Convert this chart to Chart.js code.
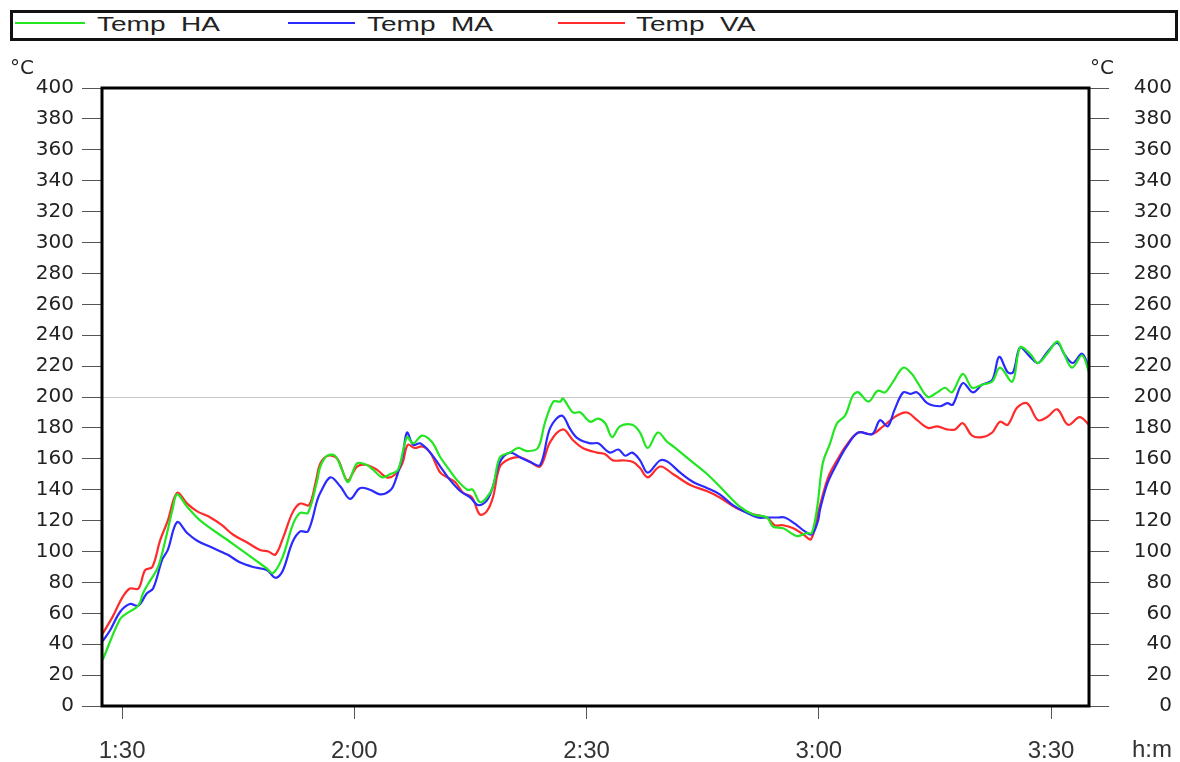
<!DOCTYPE html>
<html>
<head>
<meta charset="utf-8">
<script src="https://cdn.jsdelivr.net/npm/chart.js@4.4.1/dist/chart.umd.min.js"></script>
<style>
  html, body { margin: 0; padding: 0; background: #fff; }
  #wrap { position: relative; width: 1180px; height: 762px; }
  #legend { position: absolute; left: 10px; top: 10px; width: 1168px; height: 31px; box-sizing: border-box; border: 3px solid #111; }
  .key { position: absolute; top: 22px; height: 2px; }
  .lbl { position: absolute; top: 14px; font: 20px/20px "Liberation Sans", Arial, sans-serif; color: #222;
         transform-origin: left center; transform: scaleX(1.4); white-space: pre; }
</style>
</head>
<body>
<div id="wrap">
  <div id="legend"></div>
  <div class="key" style="left:15px;width:70px;background:#22e622"></div>
  <div class="lbl" style="left:97px">Temp  HA</div>
  <div class="key" style="left:288px;width:67px;background:#2a2aff"></div>
  <div class="lbl" style="left:367px">Temp  MA</div>
  <div class="key" style="left:558px;width:67px;background:#ff2a2a"></div>
  <div class="lbl" style="left:636px">Temp  VA</div>
  <canvas id="chart" width="1180" height="762" style="position:absolute;left:0;top:0"></canvas>
</div>
<script>
// time in minutes since 0:00, temperatures in °C
const timeTicks = [90, 120, 150, 180, 210];

const haTime = [87.5, 89.7, 90.6, 92.1, 92.7, 93.6, 94.65, 95.8, 96.5, 97.1, 98.4, 100.1, 104.3, 108.7, 109.5, 110.7,
  112.1, 113.0, 114.0, 115.2, 115.6, 116.5, 117.5, 118.4, 119.2, 120.35, 121.6, 122.4, 123.6, 124.6, 125.65, 126.8,
  127.6, 128.75, 130.0, 131.1, 132.1, 133.3, 134.6, 135.3, 136.2, 137.1, 137.9, 138.8, 140.1, 141.15, 142.3, 143.7,
  144.6, 145.7, 146.6, 146.95, 148.25, 149.2, 150.45, 151.5, 152.4, 153.3, 154.3, 155.9, 156.9, 157.9, 159.2, 160.4,
  161.2, 163.4, 165.6, 167.6, 169.8, 171.5, 173.3, 174.1, 175.4, 177.2, 178.5, 179.1, 179.8, 180.5, 181.45, 182.35,
  183.4, 184.4, 185.1, 186.4, 187.6, 188.55, 189.6, 190.9, 192.0, 192.8, 194.1, 195.3, 196.3, 197.2, 198.6, 199.8,
  201.1, 202.4, 203.4, 205.0, 206.0, 207.3, 208.3, 209.5, 210.8, 211.5, 212.7, 214.0, 214.9];
const haTemp = [30, 56, 60, 65, 73, 81, 90, 112, 127, 137, 129, 120, 105, 89, 86, 96,
  118, 125, 125, 146, 155, 162, 162, 153, 145, 157, 156, 153, 148, 150, 153, 174,
  170, 175, 171, 161, 154, 146, 140, 140, 132, 135, 142, 161, 164, 167, 165, 167,
  183, 197, 197, 199, 190, 190, 184, 186, 183, 174, 181, 182, 177, 167, 177, 171,
  168, 159, 150, 140, 129, 124, 122, 116, 115, 110, 112, 112, 129, 157, 170, 183,
  188, 201, 203, 197, 204, 203, 210, 219, 215, 209, 200, 203, 206, 203, 215, 206,
  208, 210, 219, 210, 232, 228, 222, 228, 236, 230, 219, 227, 216];

const maTime = [87.5, 88.45, 89.75, 91.0, 92.1, 93.2, 94.0, 95.2, 95.9, 97.1, 98.4, 99.7, 101.4, 103.6, 105.2, 106.9,
  108.7, 109.8, 110.7, 112.0, 113.0, 114.0, 115.2, 115.6, 116.9, 118.2, 119.45, 120.7, 122.0, 123.3, 124.2, 125.0,
  126.2, 126.8, 127.6, 128.5, 129.8, 131.1, 132.4, 133.7, 134.95, 136.0, 137.1, 137.9, 138.8, 140.1, 141.4, 142.7,
  144.0, 145.3, 146.8, 147.9, 148.9, 150.45, 151.5, 153.0, 154.1, 155.0, 155.9, 156.9, 157.9, 159.5, 160.5, 162.1,
  163.75, 165.6, 167.2, 168.9, 170.7, 172.1, 173.3, 174.6, 175.6, 176.9, 178.2, 179.1, 179.9, 180.15, 181.1, 182.35,
  183.6, 185.1, 186.9, 187.9, 188.9, 189.8, 190.9, 191.8, 192.7, 194.0, 195.65, 196.6, 197.3, 198.6, 199.9, 201.1,
  202.4, 203.3, 204.4, 205.1, 206.0, 207.3, 208.3, 209.5, 210.8, 211.8, 212.8, 214.0, 214.9];
const maTemp = [42, 49, 61, 66, 65, 73, 76, 95, 101, 119, 112, 107, 103, 98, 93, 90,
  88, 83, 87, 106, 113, 113, 133, 138, 148, 142, 134, 141, 140, 137, 138, 142,
  161, 177, 169, 170, 164, 155, 146, 139, 135, 130, 133, 142, 158, 164, 161, 158,
  156, 180, 188, 179, 173, 170, 170, 164, 166, 162, 164, 159, 151, 159, 158, 151,
  145, 141, 137, 130, 125, 122, 122, 122, 122, 118, 113, 111, 120, 127, 144, 157,
  168, 177, 176, 185, 181, 192, 203, 202, 203, 196, 194, 196, 195, 209, 203, 208,
  211, 226, 216, 216, 232, 226, 222, 229, 235, 227, 222, 228, 219];

const vaTime = [87.5, 88.8, 90.0, 91.0, 92.1, 92.97, 93.9, 94.9, 95.9, 97.1, 98.4, 99.7, 101.4, 102.9, 104.3, 106.1,
  107.8, 108.9, 109.8, 110.8, 112.0, 113.0, 114.15, 115.05, 115.6, 116.6, 117.8, 119.1, 120.35, 121.6, 122.9, 124.2,
  125.3, 126.2, 126.9, 127.8, 128.75, 129.8, 131.1, 132.0, 133.0, 134.05, 135.2, 136.2, 137.1, 137.9, 138.8, 140.1,
  141.4, 142.7, 144.0, 145.3, 146.95, 148.25, 149.5, 151.35, 152.4, 153.4, 154.7, 156.0, 156.9, 157.9, 159.5, 161.2,
  163.4, 165.6, 167.2, 169.4, 171.5, 173.3, 174.3, 175.4, 176.7, 178.0, 179.0, 179.9, 181.2, 182.35, 183.6, 185.1,
  186.9, 188.3, 190.1, 191.4, 192.7, 194.1, 195.3, 196.6, 197.6, 198.6, 199.8, 201.1, 202.4, 203.4, 204.4, 205.6,
  206.9, 208.3, 209.5, 210.8, 212.2, 213.7, 214.9];
const vaTemp = [47, 58, 70, 76, 76, 88, 90, 107, 120, 138, 131, 126, 122, 117, 111, 106,
  101, 100, 98, 109, 125, 131, 130, 146, 157, 162, 160, 146, 155, 156, 153, 148,
  150, 157, 169, 167, 168, 164, 151, 148, 145, 138, 135, 124, 126, 135, 155, 160,
  161, 158, 155, 171, 179, 172, 167, 164, 163, 159, 159, 158, 154, 148, 155, 150,
  143, 139, 135, 128, 124, 122, 117, 117, 115, 111, 108, 125, 148, 159, 169, 177,
  176, 181, 188, 190, 185, 180, 181, 179, 179, 183, 175, 174, 177, 184, 182, 193,
  196, 185, 187, 192, 182, 187, 182];

function pairs(t, v) { return t.map((x, i) => ({ x: x, y: v[i] })); }
function hm(v) { return Math.floor(v / 60) + ':' + String(v % 60).padStart(2, '0'); }

const framePlugin = {
  id: 'frame',
  afterDraw(chart) {
    const { ctx, chartArea: a } = chart;
    ctx.save();
    ctx.strokeStyle = '#000';
    ctx.lineWidth = 3;
    ctx.strokeRect(a.left, a.top, a.right - a.left, a.bottom - a.top);
    ctx.fillStyle = '#222';
    ctx.font = '20px "DejaVu Sans"';
    ctx.textBaseline = 'middle';
    ctx.textAlign = 'left';
    ctx.fillText('°C', 10, 69);
    ctx.fillText('°C', 1090, 69);
    ctx.font = '24px "Liberation Sans"';
    ctx.textAlign = 'center';
    ctx.fillStyle = '#333';
    ctx.fillText('h:m', 1152, 750);
    ctx.restore();
  }
};

const line = (label, t, v, color) => ({
  label: label, data: pairs(t, v), borderColor: color, borderWidth: 2.2,
  pointRadius: 0, tension: 0.35, fill: false
});

new Chart(document.getElementById('chart'), {
  type: 'line',
  data: {
    datasets: [
      line('Temp HA', haTime, haTemp, '#22e622'),
      line('Temp MA', maTime, maTemp, '#2a2aff'),
      line('Temp VA', vaTime, vaTemp, '#ff2a2a')
    ]
  },
  options: {
    responsive: false,
    animation: false,
    layout: { padding: { top: 88, right: 8, bottom: 0, left: 0 } },
    plugins: { legend: { display: false }, tooltip: { enabled: false } },
    scales: {
      x: {
        type: 'linear', min: 87.4, max: 214.9,
        afterBuildTicks: s => { s.ticks = timeTicks.map(v => ({ value: v })); },
        ticks: { callback: v => hm(v), font: { family: 'Liberation Sans', size: 24 }, color: '#333', padding: 18, maxRotation: 0, autoSkip: false },
        grid: { drawOnChartArea: false, tickLength: 13, tickColor: '#555' },
        border: { display: false },
        afterFit: s => { s.height = 56; }
      },
      y: {
        position: 'left', min: 0, max: 400,
        ticks: { stepSize: 20, font: { family: 'DejaVu Sans', size: 20 }, color: '#222', padding: 8 },
        grid: { color: c => (c.tick && c.tick.value === 200) ? '#c8c8c8' : 'rgba(0,0,0,0)', tickColor: '#555', tickLength: 20 },
        border: { display: false },
        afterFit: s => { s.width = 102; }
      },
      y2: {
        position: 'right', min: 0, max: 400,
        ticks: { stepSize: 20, crossAlign: 'far', font: { family: 'DejaVu Sans', size: 20 }, color: '#222' },
        grid: { drawOnChartArea: false, tickColor: '#555', tickLength: 20 },
        border: { display: false },
        afterFit: s => { s.width = 83; }
      }
    }
  },
  plugins: [framePlugin]
});
</script>
</body>
</html>
